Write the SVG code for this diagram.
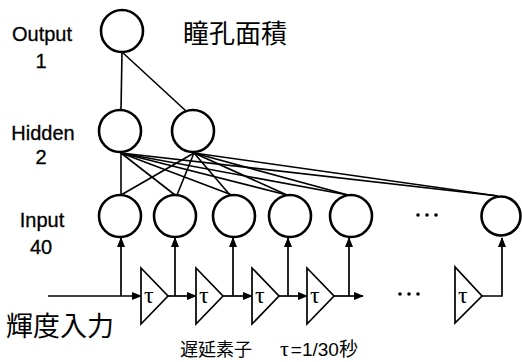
<svg xmlns="http://www.w3.org/2000/svg" width="522" height="362" viewBox="0 0 522 362">
<style>
.node{fill:#fff;stroke:#000;stroke-width:2.6}
.lbl{font-family:"Liberation Sans",Arial,sans-serif;font-size:20px;text-anchor:middle;fill:#000;stroke:#000;stroke-width:0.3}
.jp{font-family:"Noto Sans CJK JP","Noto Sans CJK SC",sans-serif;fill:#000}
.w{stroke:#000;stroke-width:1.6;fill:none}
.sig{stroke:#000;stroke-width:1.7;fill:none}
.delay{fill:#fff;stroke:#000;stroke-width:1.7}
.tau{font-family:"Liberation Serif","DejaVu Serif",serif;font-size:24px;fill:#000}
</style>
<defs>
<marker id="ah" markerWidth="10" markerHeight="8" refX="9" refY="4" orient="auto" markerUnits="userSpaceOnUse">
<path d="M0,0 L10,4 L0,8 Z" fill="#000"/>
</marker>
</defs>
<rect width="522" height="362" fill="#fff"/>
<g id="connectors">
<line class="w" x1="122" y1="52" x2="121" y2="110"/>
<line class="w" x1="122" y1="52" x2="186" y2="111"/>
<g id="h1-lines">
<line class="w" x1="121" y1="153" x2="121" y2="195"/>
<line class="w" x1="121" y1="153" x2="175" y2="195"/>
<line class="w" x1="121" y1="153" x2="232" y2="195"/>
<line class="w" x1="121" y1="153" x2="287" y2="195"/>
<line class="w" x1="121" y1="153" x2="348" y2="195"/>
<line class="w" x1="121" y1="153" x2="498" y2="196"/>
</g>
<g id="h2-lines">
<line class="w" x1="194" y1="153" x2="121" y2="195"/>
<line class="w" x1="194" y1="153" x2="177" y2="195"/>
<line class="w" x1="194" y1="153" x2="230" y2="195"/>
<line class="w" x1="194" y1="153" x2="287" y2="195"/>
<line class="w" x1="194" y1="153" x2="348" y2="195"/>
<line class="w" x1="194" y1="153" x2="498" y2="196"/>
</g>
<g id="signal">
<line class="sig" x1="48" y1="296" x2="141" y2="296" marker-end="url(#ah)"/>
<line class="sig" x1="121" y1="296" x2="121" y2="238" marker-end="url(#ah)"/>
<line class="sig" x1="168" y1="296" x2="196" y2="296" marker-end="url(#ah)"/>
<line class="sig" x1="175" y1="296" x2="175" y2="238" marker-end="url(#ah)"/>
<line class="sig" x1="223" y1="296" x2="252" y2="296" marker-end="url(#ah)"/>
<line class="sig" x1="233" y1="296" x2="233" y2="238" marker-end="url(#ah)"/>
<line class="sig" x1="279" y1="296" x2="307" y2="296" marker-end="url(#ah)"/>
<line class="sig" x1="288" y1="296" x2="288" y2="238" marker-end="url(#ah)"/>
<line class="sig" x1="334" y1="296" x2="363" y2="296" marker-end="url(#ah)"/>
<line class="sig" x1="349" y1="296" x2="349" y2="238" marker-end="url(#ah)"/>
<polyline class="sig" points="482,296 502,296 502,238" marker-end="url(#ah)"/>
</g>
</g>
<g id="output"><circle class="node" cx="122" cy="31" r="21"/></g>
<g id="hidden1"><circle class="node" cx="120" cy="131" r="21"/></g>
<g id="hidden2"><circle class="node" cx="193" cy="131" r="21"/></g>
<g id="input1"><circle class="node" cx="120" cy="216" r="21"/></g>
<g id="input2"><circle class="node" cx="175" cy="216" r="21"/></g>
<g id="input3"><circle class="node" cx="234" cy="216" r="21"/></g>
<g id="input4"><circle class="node" cx="290" cy="216" r="21"/></g>
<g id="input5"><circle class="node" cx="351" cy="216" r="21"/></g>
<g id="input40"><circle class="node" cx="501" cy="216" r="19.5"/></g>
<g id="dots-input" fill="#000"><circle cx="418" cy="215" r="1.8"/><circle cx="427" cy="215" r="1.8"/><circle cx="436" cy="215" r="1.8"/></g>
<g id="dots-delay" fill="#000"><circle cx="400" cy="294" r="1.8"/><circle cx="409" cy="294" r="1.8"/><circle cx="418" cy="294" r="1.8"/></g>
<g id="delay1"><polygon class="delay" points="141,268 141,324 168,296"/><text class="tau" x="144" y="303">τ</text></g>
<g id="delay2"><polygon class="delay" points="196,268 196,324 223,296"/><text class="tau" x="199" y="303">τ</text></g>
<g id="delay3"><polygon class="delay" points="252,268 252,324 279,296"/><text class="tau" x="255" y="303">τ</text></g>
<g id="delay4"><polygon class="delay" points="307,268 307,324 334,296"/><text class="tau" x="310" y="303">τ</text></g>
<g id="delay40"><polygon class="delay" points="455,267 455,323 482,296"/><text class="tau" x="458" y="303">τ</text></g>
<g id="labels">
<text class="lbl" x="42" y="41">Output</text>
<text class="lbl" x="41" y="68">1</text>
<text class="lbl" x="43" y="140">Hidden</text>
<text class="lbl" x="41" y="164">2</text>
<text class="lbl" x="42" y="227">Input</text>
<text class="lbl" x="41" y="254">40</text>
<text class="jp" x="183" y="43" font-size="26">瞳孔面積</text>
<text class="jp" x="6" y="336" font-size="27">輝度入力</text>
<text class="jp" x="180" y="356" font-size="18">遅延素子</text>
<text class="jp" x="280" y="356" font-size="19"><tspan font-family="Liberation Serif,serif" font-size="22">τ</tspan><tspan font-family="Liberation Sans,sans-serif" dx="2">=1/30</tspan>秒</text>
</g>
</svg>
